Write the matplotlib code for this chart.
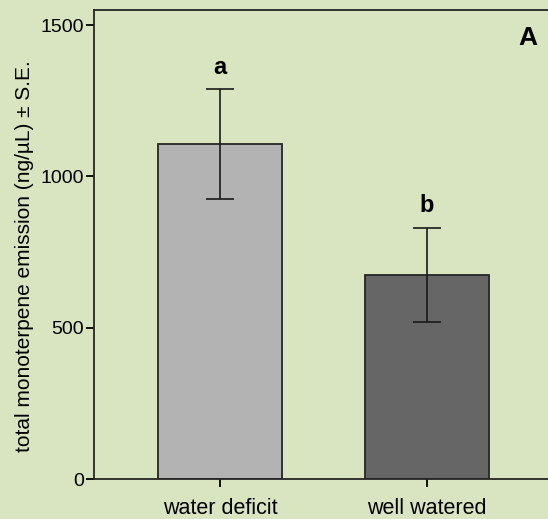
import matplotlib.pyplot as plt

plt.rcParams['font.family'] = ['Liberation Sans', 'DejaVu Sans']

# Monoterpene emission per treatment
treatments = ['water deficit', 'well watered']
mean_emission = [1106, 674]
se_emission = [182, 156]
letters = ['a', 'b']
bar_colors = ['#b3b3b3', '#666666']

bg = '#d9e4c0'
fig = plt.figure(figsize=(5.48, 5.19), dpi=100, facecolor=bg)
# axes right edge runs a little past the figure edge
ax = fig.add_axes([94 / 548, 40 / 519, 459 / 548, 469 / 519], facecolor=bg)

x = range(len(treatments))
ax.bar(x, mean_emission, width=0.6, color=bar_colors, edgecolor='#262626',
       linewidth=1.3, zorder=2)
ax.errorbar(x, mean_emission, yerr=se_emission, fmt='none', ecolor='#1a1a1a',
            elinewidth=1.2, capsize=10, capthick=1.2, zorder=3)

for xi, m, s, lab in zip(x, mean_emission, se_emission, letters):
    ax.annotate(lab, (xi, m + s), xytext=(0, 16), textcoords='offset points',
                ha='center', va='center', fontsize=17, fontweight='bold')

ax.text(0.945, 0.94, 'A', transform=ax.transAxes, ha='center', va='center',
        fontsize=19, fontweight='bold')

ax.set_xlim(-0.61, 1.61)
ax.set_ylim(0, 1550)
ax.set_yticks([0, 500, 1000, 1500])
ax.set_xticks(list(x))
ax.set_xticklabels(treatments, fontsize=15.5)
ax.tick_params(axis='y', labelsize=14, length=6, width=1.3, pad=1)
ax.tick_params(axis='x', length=6, width=1.3, pad=8)

for side in ['left', 'bottom', 'top', 'right']:
    ax.spines[side].set_linewidth(1.3)
    ax.spines[side].set_color('#262626')

ax.set_ylabel('total monoterpene emission (ng/µL) ± S.E.', fontsize=15)
ax.yaxis.set_label_coords(-0.131, 0.475)

fig.savefig('out.png', dpi=100, facecolor=bg)
